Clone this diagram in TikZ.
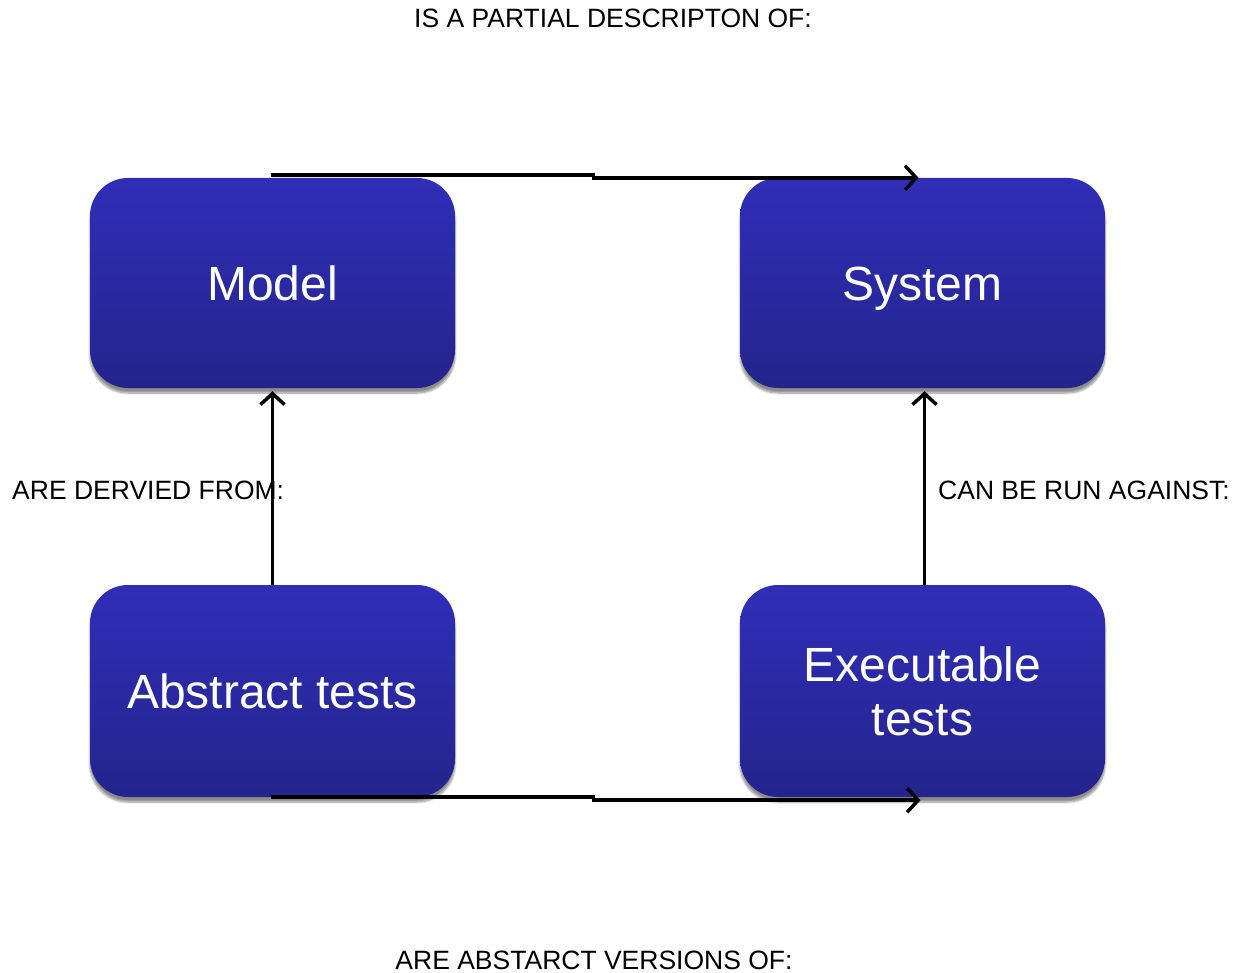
\documentclass[tikz,border=0pt]{standalone}
\usepackage{fontspec}
\setmainfont{Liberation Sans}
\usetikzlibrary{arrows.meta,shadows.blur}
\definecolor{boxtop}{RGB}{48,46,184}
\definecolor{boxbot}{RGB}{36,36,140}
\begin{document}
\begin{tikzpicture}[x=1pt,y=-1pt,
  box/.style={rounded corners=38pt, top color=boxtop, bottom color=boxbot, draw=none,
    minimum width=365pt, minimum height=210pt, text=white, inner sep=0pt,
    font=\fontsize{48}{56}\selectfont, align=center,
    blur shadow={shadow xshift=0pt, shadow yshift=-5pt, shadow blur steps=6, shadow opacity=45}},
  onel/.style={text height=35pt, text depth=-5pt},
  lbl/.style={font=\fontsize{26.5}{30}\selectfont, inner sep=0pt},
  arr/.style={line width=3.5pt, -{Straight Barb[length=11pt,width=24pt,line width=3.5pt]}}
]
\useasboundingbox (0,0) rectangle (1239,973);
\node[box, onel] (model) at (272.5,283) {Model};
\node[box, onel] (system) at (922.5,283) {System};
\node[box, onel, minimum height=212pt] (abstract) at (272.5,691) {Abstract tests};
\node[box, minimum height=212pt] (exec) at (922.5,691) {\raisebox{-2pt}{Executable}\\tests};

\node[lbl] (ltop) at (613,18) {IS A PARTIAL DESCRIPTON OF:};
\node[lbl, anchor=west] (lleft) at (12,490) {ARE DERVIED FROM:};
\node[lbl, anchor=west] (lright) at (938,490) {CAN BE RUN AGAINST:};
\node[lbl] (lbot) at (594,960) {ARE ABSTARCT VERSIONS OF:};

\draw[arr] ([shift={(-2,-3)}]model.north) -- ++(323,0) -- ++(0,3) -- ([xshift=-4pt]system.north);
\draw[arr] ([shift={(-2,0)}]abstract.south) -- ++(323,0) -- ++(0,3) -- ([xshift=-2pt,yshift=-3pt]exec.south);
\draw[arr, shorten >=3pt] (abstract.north) -- (model.south);
\draw[arr, shorten >=3pt] ([xshift=2pt]exec.north) -- ([xshift=2pt]system.south);
\end{tikzpicture}
\end{document}
